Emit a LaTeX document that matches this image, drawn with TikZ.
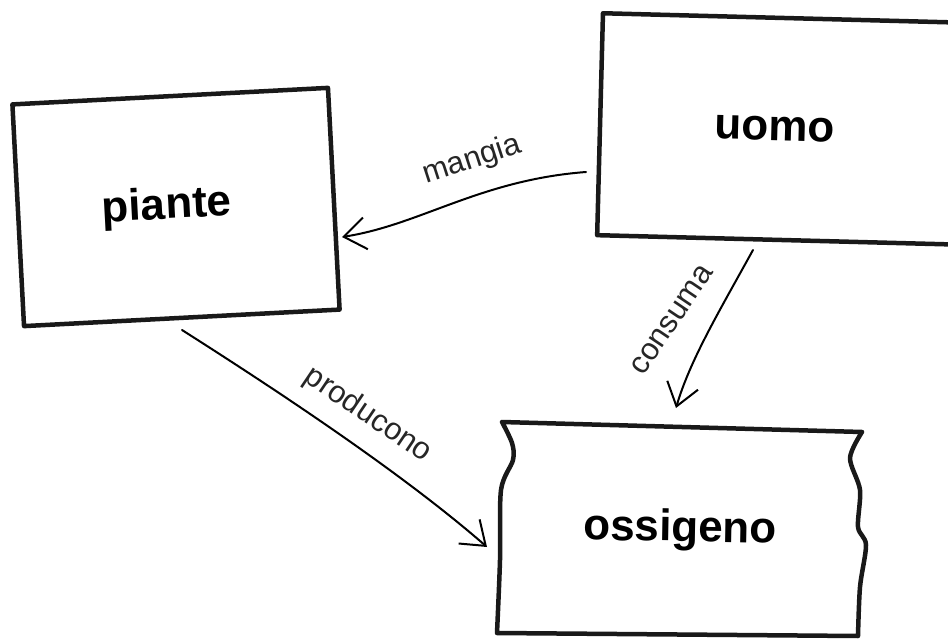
\documentclass[tikz,border=0pt]{standalone}
\usepackage{fontspec}
\setmainfont{Liberation Sans}
\usetikzlibrary{arrows.meta}

\tikzset{
  box/.style={draw=black!90, line width=4.5pt, line join=round,
    font=\fontsize{44}{50}\selectfont\bfseries},
  boxline/.style={draw=black!90, line width=4.5pt, line join=round, line cap=round},
  rel/.style={line width=2pt, line cap=round,
    -{Straight Barb[length=22pt,width=32pt,line width=2pt]}},
  lab/.style={font=\fontsize{31}{36}\selectfont, text=black!85}
}

\begin{document}
\begin{tikzpicture}[x=1pt, y=-1pt]
  \useasboundingbox (0,0) rectangle (948,639);
  \clip (0,0) rectangle (948,639);

  % the three boxes
  \node[box, rotate=3, minimum width=316pt, minimum height=222pt]
    (piante) at (176,207) {\hspace*{-18pt}piante};
  \node[box, rotate=-1.5, minimum width=366pt, minimum height=222pt]
    (uomo) at (783,129) {\hspace*{-16pt}uomo};
  \node[box, draw=none, rotate=-1, minimum width=361pt, minimum height=207pt]
    (ossigeno) at (680,530) {ossigeno};
  % wobbly outline of ossigeno
  \draw[boxline] (502,422) -- (862,432)
    plot[smooth] coordinates {(862,432) (850,458) (860,490) (858,527)
      (866,545) (860,587) (858,636)}
    -- (497,633)
    plot[smooth] coordinates {(497,633) (500,560) (501,490) (513,460)
      (512,443) (502,422)};

  % arrow ends
  \coordinate (m1) at (586,172);
  \coordinate (m2) at (342,237);
  \coordinate (p1) at (182,330);
  \coordinate (p2) at (487,547);
  \coordinate (c1) at (753,250);
  \coordinate (c2) at (676,408);

  \draw[rel] (m1) .. controls (480,180) and (420,225) .. (m2);
  \draw[rel] (p1) .. controls (300,405) and (410,480) .. (p2);
  \draw[rel] (c1) .. controls (720,310) and (690,360) .. (c2);

  % labels
  \node[lab, rotate=18] (lmangia) at (472,160) {mangia};
  \node[lab, rotate=-34] (lproducono) at (368,415) {producono};
  \node[lab, rotate=56] (lconsuma) at (672,320) {consuma};
\end{tikzpicture}
\end{document}
